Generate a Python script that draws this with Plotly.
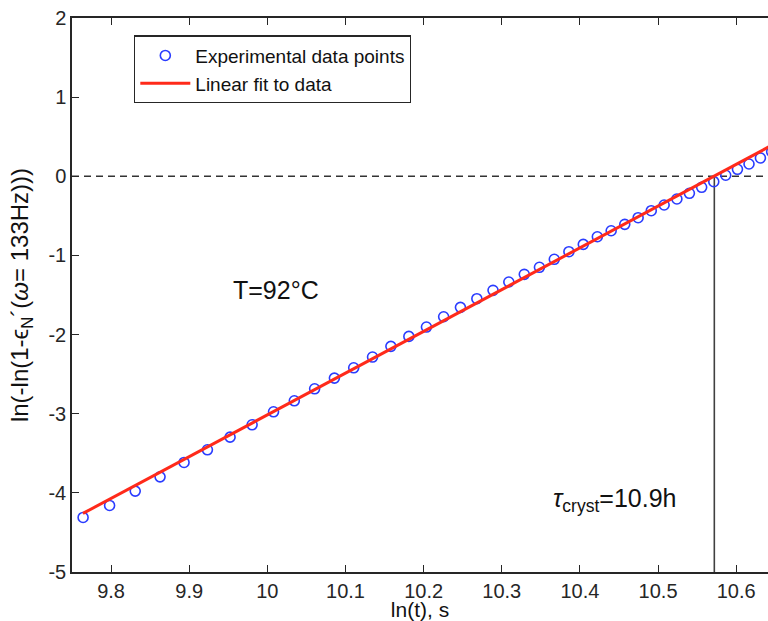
import plotly.graph_objects as go

# ---- data ----
ln_t = [9.7642, 9.7981, 9.8309, 9.8627, 9.8934, 9.9233, 9.9523, 9.9805, 10.0079, 10.0345,
        10.0605, 10.0858, 10.1105, 10.1346, 10.1581, 10.1811, 10.2036, 10.2256, 10.2471, 10.2681,
        10.2888, 10.3090, 10.3288, 10.3482, 10.3672, 10.3859, 10.4043, 10.4223, 10.4400, 10.4574,
        10.4745, 10.4913, 10.5078, 10.5241, 10.5401, 10.5558, 10.5713, 10.5866, 10.6016, 10.6164,
        10.6310, 10.6454]
ln_ln = [-4.311, -4.159, -3.978, -3.798, -3.616, -3.456, -3.296, -3.140, -2.976, -2.837,
         -2.685, -2.550, -2.420, -2.284, -2.149, -2.023, -1.905, -1.775, -1.656, -1.547,
         -1.441, -1.336, -1.239, -1.150, -1.049, -0.953, -0.860, -0.764, -0.688, -0.607,
         -0.523, -0.435, -0.363, -0.287, -0.215, -0.139, -0.068, 0.013, 0.088, 0.155,
         0.231, 0.310]
fit_x = [9.764, 10.70]
fit_y = [-4.26, 0.679]
tau_ln = 10.572          # ln(tau_cryst)
x_ticks = [9.8, 9.9, 10.0, 10.1, 10.2, 10.3, 10.4, 10.5, 10.6]
x_tick_labels = ["9.8", "9.9", "10", "10.1", "10.2", "10.3", "10.4", "10.5", "10.6"]
y_ticks = [-5, -4, -3, -2, -1, 0, 1, 2]
y_tick_labels = ["-5", "-4", "-3", "-2", "-1", "0", "1", "2"]

FONT = "Liberation Sans, Arial, Helvetica, sans-serif"
AX = "#262626"

fig = go.Figure()
fig.add_trace(go.Scatter(
    x=ln_t, y=ln_ln, mode="markers", name="Experimental data points",
    marker=dict(symbol="circle-open", size=10, color="#2a3cff", line=dict(width=1.6, color="#2a3cff")),
))
fig.add_trace(go.Scatter(
    x=fit_x, y=fit_y, mode="lines", name="Linear fit to data",
    line=dict(color="#ff2a1a", width=3),
))

# reference lines
fig.add_shape(type="line", xref="paper", yref="y", x0=0, x1=1, y0=0, y1=0,
              line=dict(color="#333333", width=1.4, dash="7px,5px"), layer="below")
fig.add_shape(type="line", xref="x", yref="y", x0=tau_ln, x1=tau_ln, y0=-5, y1=0,
              line=dict(color="#404040", width=1.6), layer="below")

fig.add_annotation(x=10.0115, y=-1.437, text="T=92°C", showarrow=False,
                   font=dict(family=FONT, size=25, color="#111111"))
fig.add_annotation(x=10.4444, y=-4.09, text="<i>τ</i><sub>cryst</sub>=10.9h", showarrow=False,
                   font=dict(family=FONT, size=25, color="#111111"))

fig.update_layout(
    width=768, height=621,
    margin=dict(l=72, r=0, t=18, b=49),
    paper_bgcolor="white", plot_bgcolor="white",
    font=dict(family=FONT, size=20, color=AX),
    showlegend=True,
    legend=dict(x=0.0891, y=0.9688, xanchor="left", yanchor="top",
                bgcolor="white", bordercolor=AX, borderwidth=1.3, itemwidth=50,
                font=dict(family=FONT, size=19, color="#111111")),
    xaxis=dict(range=[9.75, 10.6407], tickvals=x_ticks, ticktext=x_tick_labels,
               ticks="inside", ticklen=7, tickwidth=1.3, tickcolor=AX,
               showline=True, linecolor=AX, linewidth=1.5, mirror="ticks",
               showgrid=False, zeroline=False, tickfont=dict(size=20),
               title=dict(text="ln(t), s", standoff=0, font=dict(size=21, color="#111111"))),
    yaxis=dict(range=[-5, 2], tickvals=y_ticks, ticktext=y_tick_labels,
               ticks="inside", ticklen=7, tickwidth=1.3, tickcolor=AX,
               showline=True, linecolor=AX, linewidth=1.5, mirror=False,
               showgrid=False, zeroline=False, tickfont=dict(size=20),
               title=dict(text="ln(-ln(1-ϵ<sub>N</sub>´(<i>ω</i>= 133Hz)))", standoff=13,
                          font=dict(size=24, color="#111111"))),
)

fig.write_html("out.html")
